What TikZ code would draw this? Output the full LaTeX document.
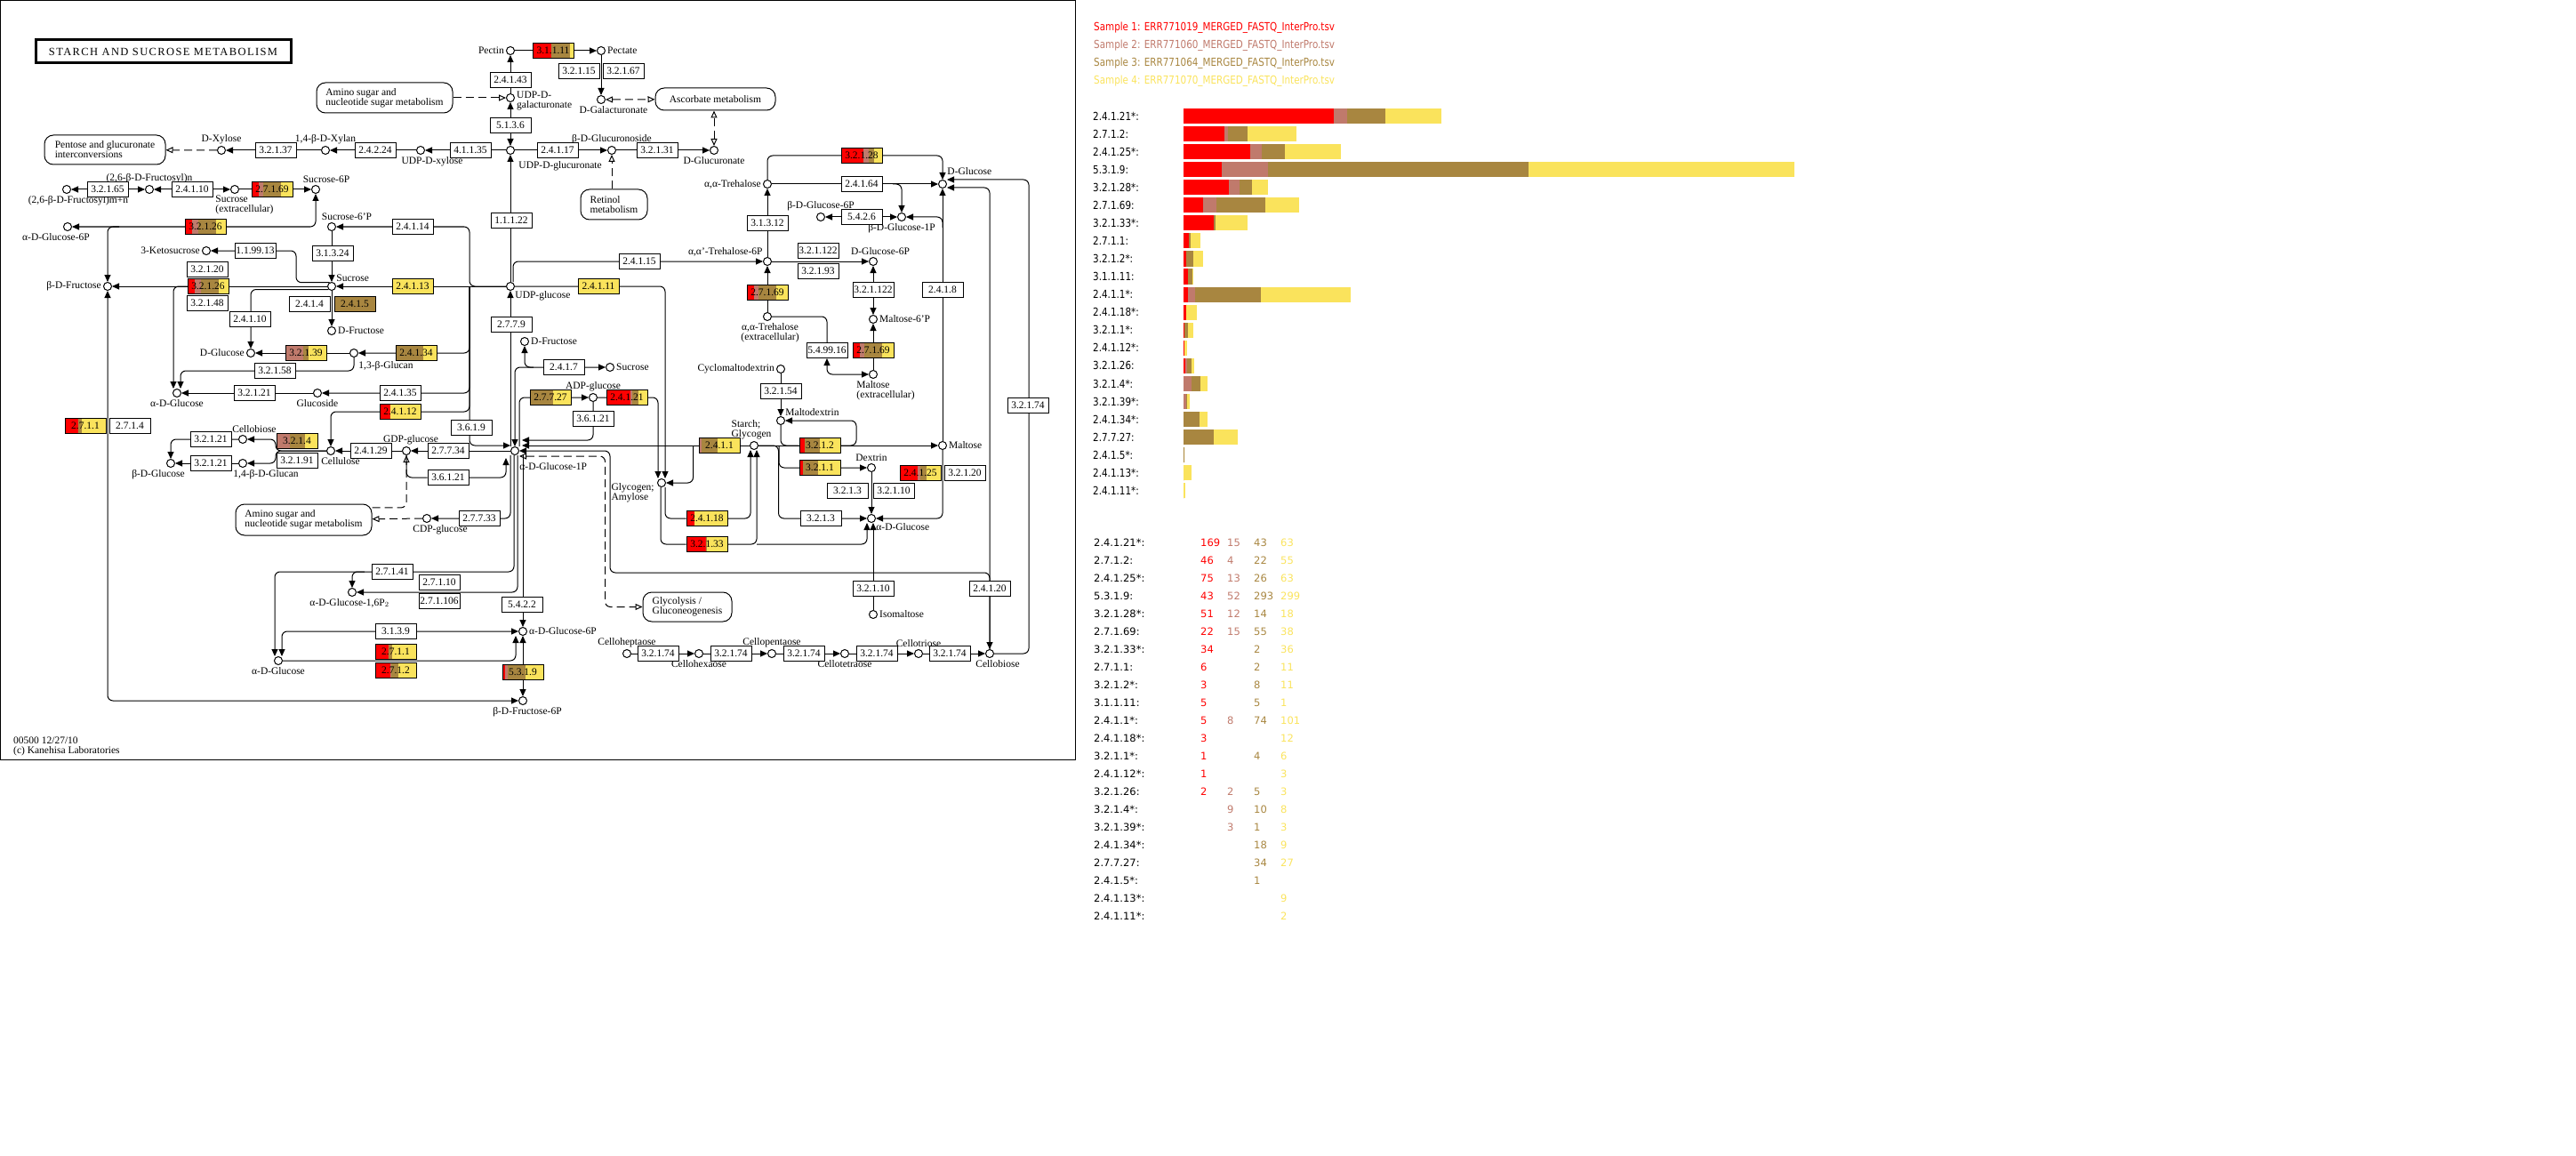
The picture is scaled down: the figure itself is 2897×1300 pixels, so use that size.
\documentclass[tikz,border=0pt]{standalone}
\usepackage{fontspec}
\setmainfont{Liberation Serif}
\newfontfamily\narrowsans[FakeStretch=0.83]{DejaVu Sans}
\newfontfamily\tabsans{DejaVu Sans}
\usepackage{tikz}
\usetikzlibrary{arrows.meta, calc}
\pgfdeclarelayer{bg}
\pgfsetlayers{bg,main}
\definecolor{sone}{RGB}{255,0,0}
\definecolor{stwo}{RGB}{192,122,108}
\definecolor{sthree}{RGB}{168,134,64}
\definecolor{sfour}{RGB}{250,227,92}
\newcommand{\kegg}{\fontsize{11.5}{11}\selectfont}

\begin{document}
\begin{tikzpicture}[x=1pt, y=-1pt,
  cpd/.style={circle, draw, line width=1pt, fill=white, inner sep=0pt, minimum size=9pt},
  ec/.style={draw, line width=1pt, fill=white, inner sep=0pt, minimum width=46pt, minimum height=17pt, font=\kegg},
  hit/.style n args={4}{path picture={
    \pgfmathsetmacro\hitA{#1/(#1+#2+#3+#4)}
    \pgfmathsetmacro\hitB{(#1+#2)/(#1+#2+#3+#4)}
    \pgfmathsetmacro\hitC{(#1+#2+#3)/(#1+#2+#3+#4)}
    \coordinate (sw) at (path picture bounding box.south west);
    \coordinate (ne) at (path picture bounding box.north east);
    \fill[sone] (sw) rectangle ($(sw|-ne)!\hitA!(ne)$);
    \fill[stwo] ($(sw)!\hitA!(sw-|ne)$) rectangle ($(sw|-ne)!\hitB!(ne)$);
    \fill[sthree] ($(sw)!\hitB!(sw-|ne)$) rectangle ($(sw|-ne)!\hitC!(ne)$);
    \fill[sfour] ($(sw)!\hitC!(sw-|ne)$) rectangle (ne);
  }},
  mapbox/.style={draw, line width=1pt, rounded corners=10pt, align=left, inner sep=0pt, font=\kegg},
  lbl/.style={font=\kegg, inner sep=1pt},
  label distance=1pt,
  rx/.style={line width=1pt, rounded corners=6pt},
  arrow/.style={rx, -{Triangle[length=8pt,width=7pt]}},
  both/.style={rx, {Triangle[length=8pt,width=7pt]}-{Triangle[length=8pt,width=7pt]}},
  flow/.style={line width=1pt, dash pattern=on 9pt off 5pt, rounded corners=6pt, -{Triangle[open,length=8pt,width=7pt]}},
  flowboth/.style={flow, {Triangle[open,length=8pt,width=7pt]}-{Triangle[open,length=8pt,width=7pt]}},
  barlbl/.style={anchor=west, inner sep=0pt, font=\narrowsans\fontsize{12.5}{13}\selectfont},
  numlbl/.style={anchor=west, inner sep=0pt, font=\tabsans\fontsize{11.5}{12}\selectfont}
]
\useasboundingbox (0,0) rectangle (2897,1300);
\draw[line width=1pt] (0.5,0.5) rectangle (1209,854);
\node[draw, line width=3pt, minimum width=287pt, minimum height=26pt, inner sep=0pt, font=\fontsize{12.5}{13}\selectfont\addfontfeature{LetterSpace=11}] (title) at (183.5,58) {STARCH AND SUCROSE METABOLISM};
\node[lbl, anchor=north west, align=left] (credit) at (14,828) {00500 12/27/10\\(c) Kanehisa Laboratories};

% pathway maps
\node[mapbox, minimum width=153pt, minimum height=34pt] (amino1) at (432.5,110) {Amino sugar and\\nucleotide sugar metabolism};
\node[mapbox, minimum width=136pt, minimum height=33pt] (pentose) at (118,168.5) {Pentose and glucuronate\\interconversions};
\node[mapbox, minimum width=135pt, minimum height=25pt] (ascorb) at (804.5,111.5) {Ascorbate metabolism};
\node[mapbox, minimum width=75pt, minimum height=34pt] (retinol) at (690.5,230) {Retinol\\metabolism};
\node[mapbox, minimum width=153pt, minimum height=35pt] (amino2) at (341.5,584.5) {Amino sugar and\\nucleotide sugar metabolism};
\node[mapbox, minimum width=100pt, minimum height=33pt] (glycol) at (773,682.5) {Glycolysis /\\Gluconeogenesis};

% compounds
\node[cpd, label={[lbl]left:Pectin}] (pectin) at (574,57) {};
\node[cpd, label={[lbl]right:Pectate}] (pectate) at (676,57) {};
\node[cpd, label={[lbl,align=left,yshift=-3pt]right:UDP-D-\\galacturonate}] (udpgala) at (574,110) {};
\node[cpd, label={[lbl,xshift=14pt]below:D-Galacturonate}] (dgalur) at (676,112) {};
\node[cpd, label={[lbl,xshift=4pt,yshift=-7pt]below right:UDP-D-glucuronate}] (udpglca) at (574,169) {};
\node[cpd, label={[lbl,xshift=13pt]below:UDP-D-xylose}] (udpxyl) at (473,169) {};
\node[cpd, label={[lbl]above:{1,4-β-D-Xylan}}] (xylan) at (366,169) {};
\node[cpd, label={[lbl]above:D-Xylose}] (dxyl) at (249,169) {};
\node[cpd, label={[lbl]above:β-D-Glucuronoside}] (glcnd) at (688,169) {};
\node[cpd, label={[lbl]below:D-Glucuronate}] (dglca) at (803,169) {};
\node[cpd, label={[lbl]above:{(2,6-β-D-Fructosyl)n}}] (frucn) at (168,213) {};
\node[cpd, label={[lbl,xshift=13pt]below:{(2,6-β-D-Fructosyl)m+n}}] (frucmn) at (75,213) {};
\node[cpd, label={[lbl,align=left,xshift=11pt]below:Sucrose\\(extracellular)}] (sucx) at (264,213) {};
\node[cpd, label={[lbl,xshift=12pt]above:Sucrose-6P}] (suc6p) at (355,213) {};
\node[cpd, label={[lbl,xshift=-13pt]below:α-D-Glucose-6P}] (glc6pl) at (76,255) {};
\node[cpd, label={[lbl,xshift=17pt]above:Sucrose-6'P}] (suc6pp) at (373,255) {};
\node[cpd, label={[lbl]left:3-Ketosucrose}] (ketosuc) at (232,282) {};
\node[cpd, label={[lbl]left:β-D-Fructose}] (bfru) at (121,322) {};
\node[cpd, label={[lbl]above right:Sucrose}] (suc) at (373,322) {};
\node[cpd, label={[lbl]right:D-Fructose}] (dfrul) at (373,372) {};
\node[cpd, label={[lbl]left:D-Glucose}] (dglcl) at (282,397) {};
\node[cpd, label={[lbl,yshift=-4pt]below right:{1,3-β-Glucan}}] (glucanb) at (398,397) {};
\node[cpd, label={[lbl]below:α-D-Glucose}] (aglcl) at (199,442) {};
\node[cpd, label={[lbl]below:Glucoside}] (glcsd) at (357,442) {};
\node[cpd, label={[lbl,xshift=13pt]above:Cellobiose}] (cellobl) at (273,494) {};
\node[cpd, label={[lbl,xshift=26pt]below:{1,4-β-D-Glucan}}] (glucana) at (273,521) {};
\node[cpd, label={[lbl,xshift=-14pt]below:β-D-Glucose}] (bglc) at (192,521) {};
\node[cpd, label={[lbl,xshift=11pt]below:Cellulose}] (cellu) at (372,507) {};
\node[cpd, label={[lbl,xshift=5pt]above:GDP-glucose}] (gdpglc) at (457,507) {};
\node[cpd, label={[lbl]below right:UDP-glucose}] (udpglc) at (574,322) {};
\node[cpd, label={[lbl]right:D-Fructose}] (dfru) at (590,384) {};
\node[cpd, label={[lbl]right:Sucrose}] (sucr) at (686,413) {};
\node[cpd, label={[lbl]above:ADP-glucose}] (adpglc) at (667,447) {};
\node[cpd, label={[lbl,yshift=-8pt]below right:α-D-Glucose-1P}] (g1p) at (579,507) {};
\node[cpd, label={[lbl,xshift=15pt]below:CDP-glucose}] (cdpglc) at (480,583) {};
\node[cpd, label={[lbl,xshift=-3pt]below:{α-D-Glucose-1,6P$_2$}}] (g16p) at (396,666) {};
\node[cpd, label={[lbl]below:α-D-Glucose}] (aglcb) at (313,743) {};
\node[cpd, label={[lbl]right:α-D-Glucose-6P}] (g6p) at (588,710) {};
\node[cpd, label={[lbl,xshift=5pt]below:β-D-Fructose-6P}] (f6p) at (588,788) {};
\node[cpd, label={[lbl,align=left,xshift=-3pt,yshift=5pt]below left:Glycogen;\\Amylose}] (glyco) at (744,543) {};
\node[cpd, label={[lbl]above left:{α,α'-Trehalose-6P}}] (tre6p) at (863,294) {};
\node[cpd, label={[lbl]left:{α,α-Trehalose}}] (tre) at (863,207) {};
\node[cpd, label={[lbl,xshift=8pt]above:D-Glucose-6P}] (g6pr) at (982,294) {};
\node[cpd, label={[lbl,align=center,xshift=3pt]below:{α,α-Trehalose\\(extracellular)}}] (trex) at (863,356) {};
\node[cpd, label={[lbl,align=left,xshift=14pt]below:Maltose\\(extracellular)}] (maltx) at (982,421) {};
\node[cpd, label={[lbl]right:Maltose-6'P}] (malt6p) at (982,359) {};
\node[cpd, label={[lbl]left:Cyclomaltodextrin}] (cyclo) at (878,415) {};
\node[cpd, label={[lbl]above right:Maltodextrin}] (maltdx) at (878,473) {};
\node[cpd, label={[lbl,align=left,xshift=-3pt]above:Starch;\\Glycogen}] (starch) at (848,501) {};
\node[cpd, label={[lbl]above:Dextrin}] (dextrin) at (980,526) {};
\node[cpd, label={[lbl]right:Maltose}] (maltose) at (1060,501) {};
\node[cpd, label={[lbl]below right:α-D-Glucose}] (aglcr) at (980,583) {};
\node[cpd, label={[lbl]right:Isomaltose}] (isomalt) at (982,691) {};
\node[cpd, label={[lbl,yshift=5pt]above right:D-Glucose}] (dglc) at (1060,207) {};
\node[cpd, label={[lbl]above:β-D-Glucose-6P}] (bg6p) at (923,244) {};
\node[cpd, label={[lbl]below:β-D-Glucose-1P}] (bg1p) at (1014,244) {};
\node[cpd, label={[lbl]above:Celloheptaose}] (c7) at (705,735) {};
\node[cpd, label={[lbl]below:Cellohexaose}] (c6) at (786,735) {};
\node[cpd, label={[lbl]above:Cellopentaose}] (c5) at (868,735) {};
\node[cpd, label={[lbl]below:Cellotetraose}] (c4) at (950,735) {};
\node[cpd, label={[lbl]above:Cellotriose}] (c3) at (1033,735) {};
\node[cpd, label={[lbl,xshift=9pt]below:Cellobiose}] (c2) at (1113,735) {};

% enzymes
\node[ec, hit={5}{0}{5}{1}] (e3111) at (622,57) {3.1.1.11};
\node[ec] (e24143) at (574,90) {2.4.1.43};
\node[ec] (e32115) at (651,80) {3.2.1.15};
\node[ec] (e32167) at (701,80) {3.2.1.67};
\node[ec] (e5136) at (574,141) {5.1.3.6};
\node[ec] (e32137) at (310,169) {3.2.1.37};
\node[ec] (e24224) at (422,169) {2.4.2.24};
\node[ec] (e41135) at (529,169) {4.1.1.35};
\node[ec] (e24117) at (627,169) {2.4.1.17};
\node[ec] (e32131) at (739,169) {3.2.1.31};
\node[ec] (e11122) at (575,248) {1.1.1.22};
\node[ec] (e24114) at (464,255) {2.4.1.14};
\node[ec] (e32165) at (121,213) {3.2.1.65};
\node[ec] (e24110a) at (216,213) {2.4.1.10};
\node[ec, hit={22}{15}{55}{38}] (e27169a) at (306,213) {2.7.1.69};
\node[ec, hit={2}{2}{5}{3}] (e32126a) at (231,255) {3.2.1.26};
\node[ec] (e119913) at (287,282) {1.1.99.13};
\node[ec] (e31324) at (374,285) {3.1.3.24};
\node[ec] (e32120a) at (233,303) {3.2.1.20};
\node[ec, hit={2}{2}{5}{3}] (e32126b) at (234,322) {3.2.1.26};
\node[ec] (e32148) at (233,341) {3.2.1.48};
\node[ec] (e2414) at (348,342) {2.4.1.4};
\node[ec, hit={0}{0}{1}{0}] (e2415) at (399,342) {2.4.1.5};
\node[ec] (e24110b) at (281,359) {2.4.1.10};
\node[ec, hit={0}{0}{0}{9}] (e24113) at (464,322) {2.4.1.13};
\node[ec, hit={0}{0}{0}{2}] (e24111) at (673,322) {2.4.1.11};
\node[ec] (e24115) at (719,294) {2.4.1.15};
\node[ec, hit={0}{3}{1}{3}] (e32139) at (344,397) {3.2.1.39};
\node[ec, hit={0}{0}{18}{9}] (e24134) at (468,397) {2.4.1.34};
\node[ec] (e32158) at (309,417) {3.2.1.58};
\node[ec] (e32121a) at (286,442) {3.2.1.21};
\node[ec] (e24135) at (450,442) {2.4.1.35};
\node[ec, hit={1}{0}{0}{3}] (e24112) at (450,463) {2.4.1.12};
\node[ec] (e2779) at (575,365) {2.7.7.9};
\node[ec] (e2417) at (634,413) {2.4.1.7};
\node[ec, hit={0}{0}{34}{27}] (e27727) at (619,447) {2.7.7.27};
\node[ec, hit={169}{15}{43}{63}] (e24121) at (705,447) {2.4.1.21};
\node[ec] (e36121a) at (667,471) {3.6.1.21};
\node[ec] (e3619) at (530,481) {3.6.1.9};
\node[ec] (e27734) at (504,507) {2.7.7.34};
\node[ec] (e36121b) at (504,537) {3.6.1.21};
\node[ec] (e24129) at (417,507) {2.4.1.29};
\node[ec, hit={6}{0}{2}{11}] (e2711a) at (96,479) {2.7.1.1};
\node[ec] (e2714) at (146,479) {2.7.1.4};
\node[ec, hit={0}{9}{10}{8}] (e3214) at (334,496) {3.2.1.4};
\node[ec] (e32191) at (334,518) {3.2.1.91};
\node[ec] (e32121b) at (237,494) {3.2.1.21};
\node[ec] (e32121c) at (237,521) {3.2.1.21};
\node[ec] (e27733) at (539,583) {2.7.7.33};
\node[ec] (e27141) at (441,643) {2.7.1.41};
\node[ec] (e27110) at (494,655) {2.7.1.10};
\node[ec] (e271106) at (494,676) {2.7.1.106};
\node[ec] (e5422) at (587,680) {5.4.2.2};
\node[ec] (e3139) at (445,710) {3.1.3.9};
\node[ec, hit={6}{0}{2}{11}] (e2711b) at (445,733) {2.7.1.1};
\node[ec, hit={46}{4}{22}{55}] (e2712) at (445,754) {2.7.1.2};
\node[ec, hit={43}{52}{293}{299}] (e5319) at (588,756) {5.3.1.9};
\node[ec, hit={5}{8}{74}{101}] (e2411) at (809,501) {2.4.1.1};
\node[ec, hit={3}{0}{0}{12}] (e24118) at (795,583) {2.4.1.18};
\node[ec, hit={34}{0}{2}{36}] (e32133) at (795,612) {3.2.1.33};
\node[ec, hit={51}{12}{14}{18}] (e32128) at (969,175) {3.2.1.28};
\node[ec] (e24164) at (969,207) {2.4.1.64};
\node[ec] (e31312) at (863,251) {3.1.3.12};
\node[ec] (e5426) at (969,244) {5.4.2.6};
\node[ec] (e321122a) at (920,282) {3.2.1.122};
\node[ec] (e32193) at (920,305) {3.2.1.93};
\node[ec, hit={22}{15}{55}{38}] (e27169b) at (863,329) {2.7.1.69};
\node[ec] (e321122b) at (982,326) {3.2.1.122};
\node[ec, hit={22}{15}{55}{38}] (e27169c) at (982,394) {2.7.1.69};
\node[ec] (e549916) at (930,394) {5.4.99.16};
\node[ec] (e32154) at (878,440) {3.2.1.54};
\node[ec, hit={3}{0}{8}{11}] (e3212) at (922,501) {3.2.1.2};
\node[ec, hit={1}{0}{4}{6}] (e3211) at (922,526) {3.2.1.1};
\node[ec] (e2418) at (1060,326) {2.4.1.8};
\node[ec, hit={75}{13}{26}{63}] (e24125) at (1035,532) {2.4.1.25};
\node[ec] (e32120b) at (1085,532) {3.2.1.20};
\node[ec] (e3213a) at (953,552) {3.2.1.3};
\node[ec] (e32110a) at (1005,552) {3.2.1.10};
\node[ec] (e3213b) at (923,583) {3.2.1.3};
\node[ec] (e32110b) at (982,662) {3.2.1.10};
\node[ec] (e24120) at (1113,662) {2.4.1.20};
\node[ec] (e32174a) at (1156,456) {3.2.1.74};
\node[ec] (e32174b) at (740,735) {3.2.1.74};
\node[ec] (e32174c) at (822,735) {3.2.1.74};
\node[ec] (e32174d) at (904,735) {3.2.1.74};
\node[ec] (e32174e) at (986,735) {3.2.1.74};
\node[ec] (e32174f) at (1068,735) {3.2.1.74};

\coordinate (j26) at (134,255);
\coordinate (j20) at (212,322);
\coordinate (udpj) at (528,322);
\coordinate (j33) at (851,612);

\begin{pgfonlayer}{bg}
% uronic acids and pectin
\draw[arrow] (pectin) -- (pectate);
\draw[arrow] (udpgala) -- (pectin);
\draw[both] (udpglca) -- (udpgala);
\draw[arrow] (udpglc) -- (udpglca);
\draw[arrow] (udpglca) -- (udpxyl);
\draw[arrow] (udpxyl) -- (xylan);
\draw[arrow] (xylan) -- (dxyl);
\draw[flow] (dxyl) -- (pentose);
\draw[flow] (amino1) -- (udpgala);
\draw[arrow] (pectate) -- (dgalur);
\draw[flowboth] (dgalur) -- (ascorb);
\draw[flowboth] (dglca) -- (dglca |- ascorb.south);
\draw[arrow] (udpglca) -- (glcnd);
\draw[arrow] (glcnd) -- (dglca);
\draw[flow] (retinol.north -| glcnd) -- (glcnd);
% fructans and sucrose
\draw[both] (frucn) -- (frucmn);
\draw[both] (sucx) -- (frucn);
\draw[arrow] (sucx) -- (suc6p);
\draw[both] (suc6p) |- (glc6pl);
\draw[arrow] (j26) -| (bfru);
\draw[arrow] (suc6pp) -- (suc);
\draw[arrow] (udpglc.west) -| (528,255) -- (suc6pp);
\draw[arrow] (suc.120) -| (333,282) -- (ketosuc);
\draw[arrow] (udpglc) -- (suc);
\draw[arrow] (suc) -- (bfru);
\draw[arrow] (j20) -| ($(aglcl.north)+(-4,0)$);
\draw[arrow] (suc) -- (dfrul);
\draw[arrow] (suc.225) -| (dglcl);
\draw[arrow] (glucanb) -- (dglcl);
\draw[arrow] (udpj) |- (glucanb);
\draw[arrow] (udpj) |- (glcsd);
\draw[arrow] (udpj) |- (cellu |- e24112) -- (cellu);
\draw[arrow] (glcsd) -- (aglcl);
\draw[arrow] (glucanb) |- ($(aglcl.north |- e32158)+(4,0)$) -- ($(aglcl.north)+(4,0)$);
\draw[arrow] (gdpglc) -- (cellu);
\draw[arrow] (cellu) -- (310,507) |- (cellobl);
\draw[arrow] (cellu) -- (310,507) |- (glucana);
\draw[arrow] (cellobl) -| (bglc);
\draw[arrow] (glucana) -- (bglc);
\draw[both] (bfru) |- (f6p);
% nucleotide sugars round alpha-D-glucose-1P
\draw[arrow] (g1p.north -| udpglc) -- (udpglc);
\draw[both] (g1p.north) |- (sucr);
\draw[arrow] ($(dfru |- sucr)+(10,0)$) -| (dfru);
\draw[arrow] ($(g1p.north)+(5,0)$) |- (adpglc);
\draw[arrow] (adpglc) -| ($(glyco.north)+(-4,0)$);
\draw[arrow] (udpglc) -| ($(glyco.north)+(4,0)$);
\draw[arrow] (adpglc) |- ($(g1p.east)+(3,-12)$);
\draw[arrow] (udpj) |- ($(g1p.west)+(0,-6)$);
\draw[arrow] (g1p) -- (gdpglc);
\draw[flow] (amino2.10) -| (gdpglc);
\draw[arrow] (gdpglc) |- (e36121b) -| ($(g1p.south)+(-10,3)$);
\draw[arrow] ($(g1p.south)+(-5,0)$) |- (cdpglc);
\draw[flow] (cdpglc) -- (amino2);
\draw[arrow] ($(g1p.south)+(-1,0)$) |- ($(aglcb.north |- e27141)+(-4,0)$) -- ($(aglcb.north)+(-4,0)$);
\draw[arrow] ($(g16p |- e27141)+(14,0)$) -| (g16p);
\draw[arrow] ($(g1p.south)+(3,0)$) |- (g16p);
\draw[arrow] (g1p.south -| g6p) -- (g6p);
\draw[both] (g6p) -| ($(aglcb.north)+(4,0)$);
\draw[arrow] (aglcb) -| ($(g6p.south)+(-8,0)$);
\draw[both] (g6p) -- (f6p);
\draw[arrow] ($(udpglc.north)+(3,0)$) |- (tre6p);
% starch and glycogen
\draw[arrow] (starch) -- ($(g1p.east)+(3,-6)$);
\draw[arrow] ($(e2411.west)+(-6,0)$) |- (glyco);
\draw[both] (g1p.east) -| (686,644) -| (c2);
\draw[flowboth] ($(g1p.east)+(0,6)$) -| ($(glycol.west)+(-42,0)$) -- (glycol);
\draw[arrow] ($(glyco.south)+(-1,0)$) |- (e32133) -| ($(starch.south)+(3,0)$);
\draw[arrow] (j33) -| ($(aglcr.south)+(-5,0)$);
\draw[arrow] ($(glyco.south)+(4,0)$) |- (e24118) -| ($(starch.south)+(-4,0)$);
\draw[arrow] ($(starch)+(28,0)$) |- (dextrin);
\draw[arrow] (starch) -| ($(e3213b.west)+(-24,0)$) -- (aglcr);
\draw[arrow] (starch) -- (maltose);
\draw[rx] (maltdx) |- (e3212);
\draw[arrow] (e3212.east) -| ($(maltdx)+(85,0)$) -- (maltdx);
\draw[arrow] (cyclo) -- (maltdx);
\draw[arrow] (dextrin) -- (aglcr);
\draw[arrow] (maltose) |- (aglcr);
\draw[arrow] (isomalt) -- (isomalt |- aglcr.south);
% trehalose and glucose
\draw[arrow] (trex) -- (tre6p);
\draw[arrow] (tre6p) -- (tre);
\draw[arrow] (tre6p) -- (g6pr);
\draw[arrow] (tre) |- ($(dglc)+(0,-32)$) -- (dglc);
\draw[arrow] (tre) -- (dglc);
\draw[arrow] ($(bg1p |- tre)+(-10,0)$) -| (bg1p);
\draw[both] (bg6p) -- (bg1p);
\draw[arrow] (maltose) -- (dglc);
\draw[arrow] ($(maltose |- bg1p)+(0,12)$) |- (bg1p);
\draw[arrow] (maltx) -- (malt6p);
\draw[both] (malt6p) -- (g6pr);
\draw[both] (trex) -| (e549916) |- (maltx);
\draw[arrow] (c2) |- ($(dglc.east)+(0,4)$);
\draw[arrow] (c2) -| ($(dglc.east)+(92,-5)$) -- ($(dglc.east)+(0,-5)$);
% cellodextrins
\draw[arrow] (c7) -- (c6);
\draw[arrow] (c6) -- (c5);
\draw[arrow] (c5) -- (c4);
\draw[arrow] (c4) -- (c3);
\draw[arrow] (c3) -- (c2);
\end{pgfonlayer}

% samples
\node[barlbl, text=sone] (leg1) at (1230,30.8) {Sample 1: ERR771019\_MERGED\_FASTQ\_InterPro.tsv};
\node[barlbl, text=stwo] (leg2) at (1230,51.2) {Sample 2: ERR771060\_MERGED\_FASTQ\_InterPro.tsv};
\node[barlbl, text=sthree] (leg3) at (1230,70.9) {Sample 3: ERR771064\_MERGED\_FASTQ\_InterPro.tsv};
\node[barlbl, text=sfour] (leg4) at (1230,91.4) {Sample 4: ERR771070\_MERGED\_FASTQ\_InterPro.tsv};

\foreach \ec/\na/\nb/\nc/\nd [count=\i] in {2.4.1.21*/169/15/43/63, 2.7.1.2/46/4/22/55, 2.4.1.25*/75/13/26/63, 5.3.1.9/43/52/293/299, 3.2.1.28*/51/12/14/18, 2.7.1.69/22/15/55/38, 3.2.1.33*/34/0/2/36, 2.7.1.1/6/0/2/11, 3.2.1.2*/3/0/8/11, 3.1.1.11/5/0/5/1, 2.4.1.1*/5/8/74/101, 2.4.1.18*/3/0/0/12, 3.2.1.1*/1/0/4/6, 2.4.1.12*/1/0/0/3, 3.2.1.26/2/2/5/3, 3.2.1.4*/0/9/10/8, 3.2.1.39*/0/3/1/3, 2.4.1.34*/0/0/18/9, 2.7.7.27/0/0/34/27, 2.4.1.5*/0/0/1/0, 2.4.1.13*/0/0/0/9, 2.4.1.11*/0/0/0/2}{
  \pgfmathsetmacro\yb{130.4+20.07*(\i-1)}
  \pgfmathsetmacro\xa{1331+\na}
  \pgfmathsetmacro\xb{\xa+\nb}
  \pgfmathsetmacro\xc{\xb+\nc}
  \pgfmathsetmacro\xd{\xc+\nd}
  \node[barlbl] (bar\i) at (1229,\yb) {\ec:};
  \fill[sone] (1331,\yb-8.6) rectangle (\xa,\yb+8.6);
  \fill[stwo] (\xa,\yb-8.6) rectangle (\xb,\yb+8.6);
  \fill[sthree] (\xb,\yb-8.6) rectangle (\xc,\yb+8.6);
  \fill[sfour] (\xc,\yb-8.6) rectangle (\xd,\yb+8.6);
  \pgfmathsetmacro\yt{610.7+20*(\i-1)}
  \node[numlbl] (num\i) at (1230,\yt) {\ec:};
  \node[numlbl, text=sone] (numa\i) at (1350,\yt) {\ifnum\na>0 \na\fi};
  \node[numlbl, text=stwo] (numb\i) at (1380,\yt) {\ifnum\nb>0 \nb\fi};
  \node[numlbl, text=sthree] (numc\i) at (1410,\yt) {\ifnum\nc>0 \nc\fi};
  \node[numlbl, text=sfour] (numd\i) at (1440,\yt) {\ifnum\nd>0 \nd\fi};
}
\end{tikzpicture}
\end{document}
